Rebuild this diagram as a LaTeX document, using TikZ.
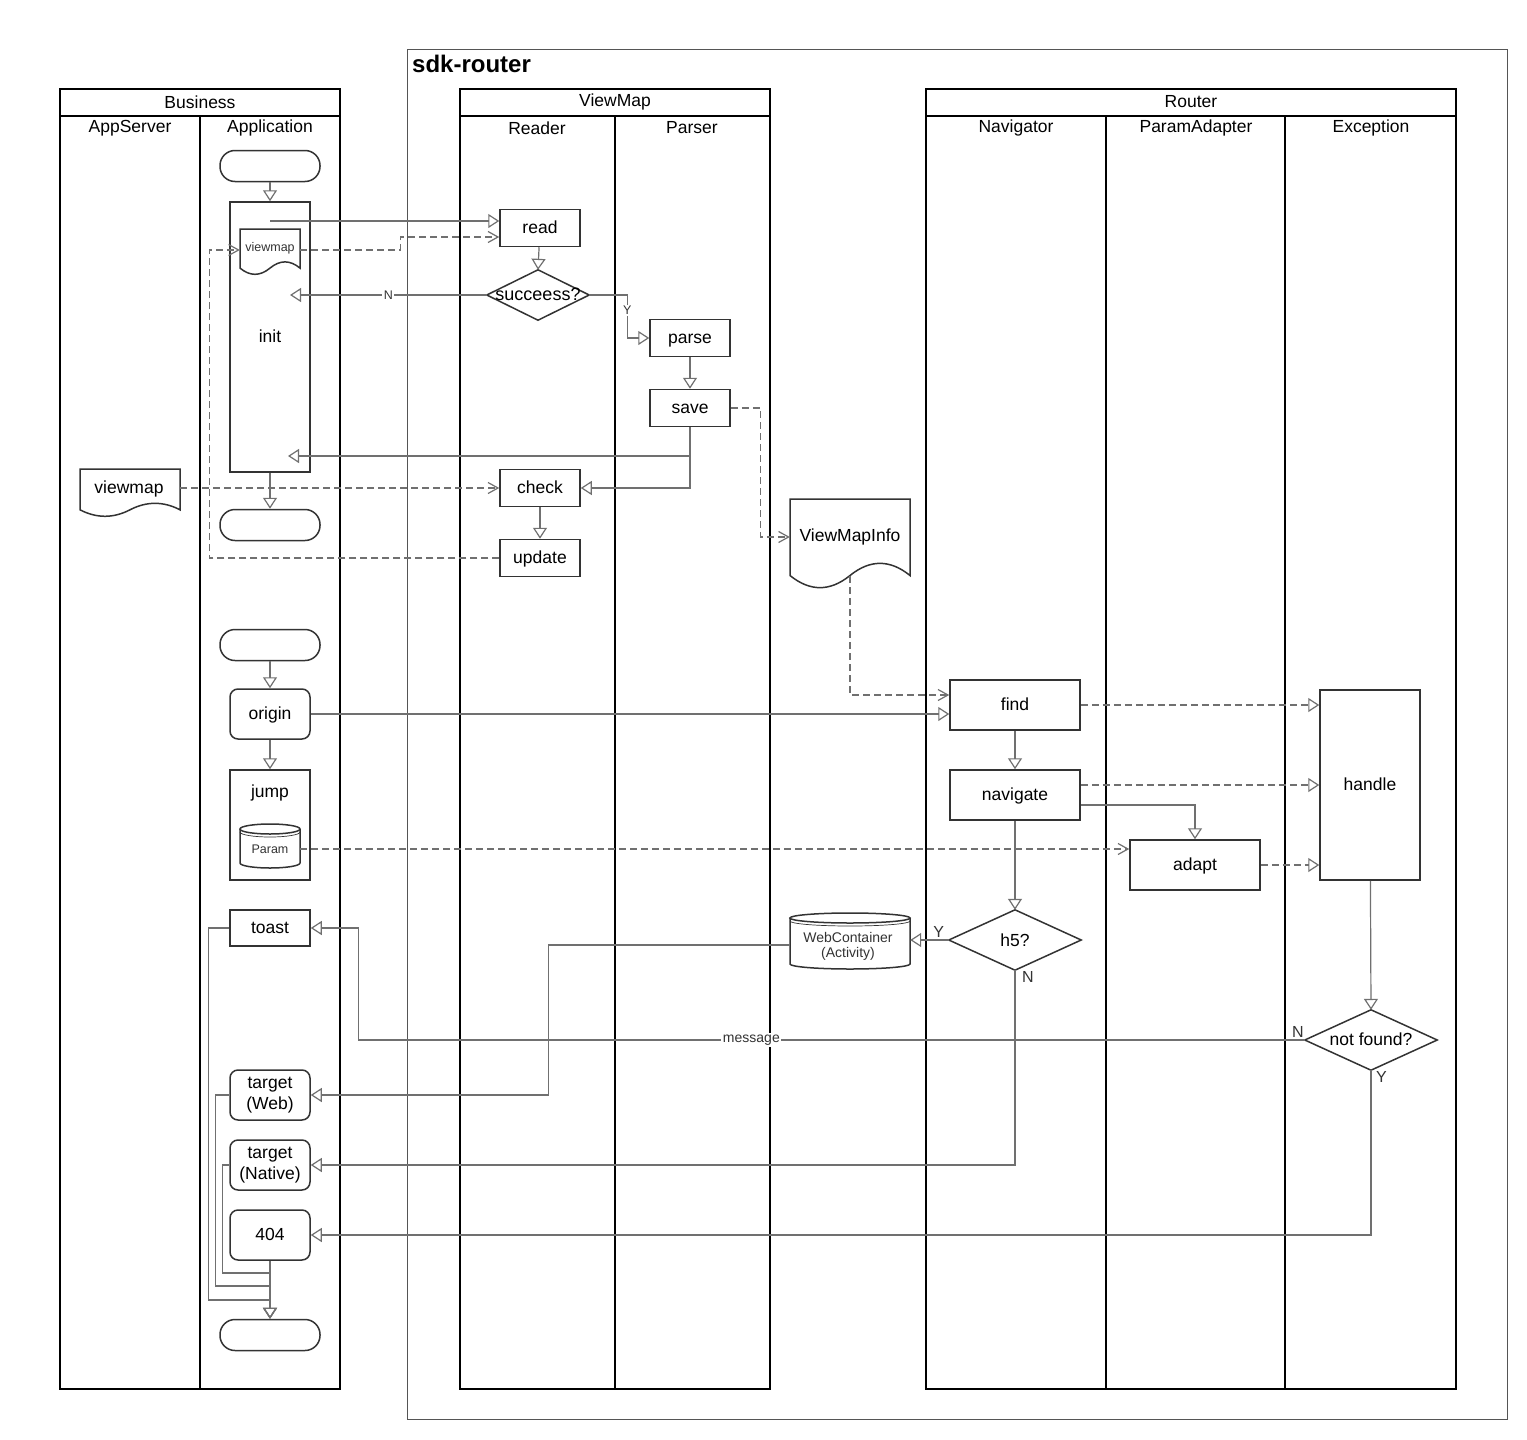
\documentclass[tikz,border=0pt]{standalone}
\usepackage{fontspec}
\setmainfont{Liberation Sans}
\usetikzlibrary{arrows.meta}
\definecolor{nodec}{HTML}{333333}
\definecolor{edgec}{HTML}{707070}
\definecolor{outerc}{HTML}{555555}
\newcommand\mydoc[4]{%
  \draw[nodeline] (#1,#2) -- (#1+#3,#2) -- (#1+#3,#2+0.85*#4)
    .. controls (#1+0.8333*#3,#2+0.67*#4) and (#1+0.6667*#3,#2+0.67*#4) .. (#1+0.5*#3,#2+0.85*#4)
    .. controls (#1+0.3333*#3,#2+1.03*#4) and (#1+0.1667*#3,#2+1.03*#4) .. (#1,#2+0.85*#4) -- cycle;}
\newcommand\mycyl[5]{%
  \draw[nodeline] (#1,#2+#5) -- (#1,#2+#4-#5) arc[start angle=180,end angle=0,x radius=#3/2,y radius=#5] -- (#1+#3,#2+#5);
  \draw[nodeline] (#1+#3/2,#2+#5) ellipse[x radius=#3/2,y radius=#5];
  \draw[draw=nodec,line width=0.7pt] (#1,#2+#5+3) arc[start angle=180,end angle=0,x radius=#3/2,y radius=#5];}
\tikzset{
  lane/.style={draw=black,line width=1.5pt},
  nodeline/.style={draw=nodec,line width=1.5pt,fill=white},
  rectml/.style={draw=nodec,line width=1.5pt,fill=white,inner sep=1pt,font=\fontsize{17.5}{21}\selectfont,align=center},
  rect/.style={rectml,text height=12.5pt,text depth=2pt},
  rrect/.style={rect,rounded corners=8pt},
  rrectml/.style={rectml,rounded corners=8pt},
  term/.style={rect,rounded corners=15pt,minimum width=100pt,minimum height=31pt},
  ghost/.style={inner sep=0pt},
  txt/.style={inner sep=1pt,font=\fontsize{17.5}{20}\selectfont,align=center},
  smalltxt/.style={inner sep=1pt,font=\fontsize{12.5}{14}\selectfont,text=nodec,align=center},
  midtxt/.style={inner sep=1pt,font=\fontsize{14}{16}\selectfont,text=nodec,align=center},
  diam/.style={draw=nodec,line width=1.5pt,fill=white,font=\fontsize{17.5}{20}\selectfont},
  flow/.style={draw=edgec,line width=1.2pt,-{Triangle[open,length=11pt,width=14pt,line width=1.2pt]}},
  dflow/.style={flow,dash pattern=on 7pt off 4pt},
  dopen/.style={draw=edgec,line width=1.2pt,dash pattern=on 7pt off 4pt,-{Straight Barb[length=10pt,width=11pt,line width=1.2pt]}},
  elbl/.style={fill=white,inner sep=1.5pt,font=\fontsize{12.5}{14}\selectfont,text=nodec},
  elbig/.style={inner sep=1pt,font=\fontsize{16}{18}\selectfont,text=nodec},
}
\begin{document}
\begin{tikzpicture}[x=1pt,y=-1pt]
\useasboundingbox (0,0) rectangle (1527,1440);
\fill[white] (0,0) rectangle (1527,1440);
% outer sdk-router
\draw[draw=outerc,line width=0.8pt] (407,49) rectangle (1507,1419);
\node[txt,anchor=west,font=\fontsize{24}{27}\selectfont\bfseries] (sdk) at (411,64) {sdk-router};
% Business pool
\draw[lane] (60,89) rectangle (340,1389);
\draw[lane] (60,116) -- (340,116);
\draw[lane] (200,116) -- (200,1389);
\node[txt] (hBus) at (200,102) {Business};
\node[txt] (hApps) at (130,128) {AppServer};
\node[txt] (hAppl) at (270,128) {Application};
% ViewMap pool
\draw[lane] (460,89) rectangle (770,1389);
\draw[lane] (460,116) -- (770,116);
\draw[lane] (615,116) -- (615,1389);
\node[txt] (hVM) at (615,102) {ViewMap};
\node[txt] (hRd) at (537,128) {Reader};
\node[txt] (hPs) at (692,128) {Parser};
% Router pool
\draw[lane] (926,89) rectangle (1456,1389);
\draw[lane] (926,116) -- (1456,116);
\draw[lane] (1106,116) -- (1106,1389);
\draw[lane] (1285,116) -- (1285,1389);
\node[txt] (hRt) at (1191,102) {Router};
\node[txt] (hNav) at (1016,128) {Navigator};
\node[txt] (hPA) at (1196,128) {ParamAdapter};
\node[txt] (hEx) at (1371,128) {Exception};

% ---- nodes: Application lane
\node[term] (st1) at (270,166) {};
\node[rect,minimum width=80pt,minimum height=270pt] (init) at (270,337) {init};
\node[ghost,minimum width=60pt,minimum height=46pt] (vmS) at (270,252) {};
\mydoc{240}{229}{60}{46}
\node[smalltxt] (vmSt) at (270,248) {viewmap};
\node[term] (end1) at (270,525) {};
\node[term] (st2) at (270,645) {};
\node[rrect,minimum width=80pt,minimum height=50pt] (origin) at (270,714) {origin};
\node[rect,minimum width=80pt,minimum height=110pt] (jump) at (270,825) {};
\node[txt] (jumpt) at (270,793) {jump};
\node[ghost,minimum width=60pt,minimum height=44pt] (param) at (270,846) {};
\mycyl{240}{824}{60}{44}{5}
\node[smalltxt] (paramt) at (270,849) {Param};
\node[rect,minimum width=80pt,minimum height=36pt] (toast) at (270,928) {toast};
\node[rrectml,minimum width=80pt,minimum height=50pt] (tweb) at (270,1095) {target\\(Web)};
\node[rrectml,minimum width=80pt,minimum height=50pt] (tnat) at (270,1165) {target\\(Native)};
\node[rrect,minimum width=80pt,minimum height=50pt] (n404) at (270,1235) {404};
\node[term] (end2) at (270,1335) {};
% AppServer lane
\node[ghost,minimum width=100pt,minimum height=48pt] (vmA) at (130,493) {};
\mydoc{80}{469}{100}{48}
\node[txt] (vmAt) at (129,489) {viewmap};
% Reader / Parser
\node[rect,minimum width=80pt,minimum height=37pt] (read) at (540,228) {read};
\node[ghost,minimum width=102pt,minimum height=50pt] (succ) at (538,295) {};
\draw[nodeline] (succ.west) -- (succ.north) -- (succ.east) -- (succ.south) -- cycle;
\node[txt,font=\fontsize{18}{20}\selectfont] (succt) at (538,294) {succeess?};
\node[rect,minimum width=80pt,minimum height=37pt] (parse) at (690,338) {parse};
\node[rect,minimum width=80pt,minimum height=37pt] (save) at (690,408) {save};
\node[rect,minimum width=80pt,minimum height=37pt] (check) at (540,488) {check};
\node[rect,minimum width=80pt,minimum height=37pt] (update) at (540,558) {update};
% ViewMapInfo
\node[ghost,minimum width=120pt,minimum height=90pt] (vmi) at (850,544) {};
\mydoc{790}{499}{120}{90}
\node[txt] (vmit) at (850,537) {ViewMapInfo};
% WebContainer
\node[ghost,minimum width=120pt,minimum height=56pt] (wc) at (850,941) {};
\mycyl{790}{913}{120}{56}{5}
\node[midtxt] (wct) at (848,946) {WebContainer\\[-1pt](Activity)};
% Router
\node[rect,minimum width=130pt,minimum height=50pt] (find) at (1015,705) {find};
\node[rect,minimum width=130pt,minimum height=50pt] (nav) at (1015,795) {navigate};
\node[rect,minimum width=130pt,minimum height=50pt] (adapt) at (1195,865) {adapt};
\node[rect,minimum width=100pt,minimum height=190pt] (handle) at (1370,785) {handle};
\node[ghost,minimum width=132pt,minimum height=60pt] (h5) at (1015,940) {};
\draw[nodeline] (h5.west) -- (h5.north) -- (h5.east) -- (h5.south) -- cycle;
\node[txt] (h5t) at (1015,940) {h5?};
\node[ghost,minimum width=132pt,minimum height=60pt] (nf) at (1371,1040) {};
\draw[nodeline] (nf.west) -- (nf.north) -- (nf.east) -- (nf.south) -- cycle;
\node[txt] (nft) at (1371,1039) {not found?};

% ---- connectors
\draw[flow] (st1) -- (init);
\coordinate (rIn1) at ([yshift=7pt]read.west);
\draw[flow] (init.north |- rIn1) -- (rIn1);
\coordinate (rIn2) at ([yshift=-9pt]read.west);
\draw[dopen] ([yshift=2pt]vmS.east) -- ++(100,0) |- (rIn2);
\draw[flow] (read) -- (succ.north);
\coordinate (nEnd) at (290,295);
\draw[flow] (succ.west) -- node[elbl]{N} (nEnd);
\draw[flow] (succ.east) -- ++(38,0) |- node[pos=0.18,elbl]{Y} (parse.west);
\draw[flow] (parse) -- (save);
\coordinate (svInit) at (288,456);
\draw[flow] (save.south) |- (svInit);
\draw[flow] (save.south) |- (check.east);
\draw[dopen] (save.east) -- ++(30,0) |- ([yshift=7pt]vmi.west);
\draw[dopen] (vmA.east |- check.west) -- (check.west);
\draw[flow] (check) -- (update);
\draw[dopen] (update.west) -- ++(-290,0) |- ([yshift=2pt]vmS.west);
\draw[flow] (init) -- (end1);
\draw[dopen] ([yshift=13pt]vmi.south) |- ([yshift=10pt]find.west);
\draw[flow] (st2) -- (origin);
\draw[flow] (origin.east) -- (origin.east -| find.west);
\draw[flow] (origin) -- (jump);
\draw[dopen] ([yshift=-3pt]param.east) -- ([yshift=-3pt]param.east -| adapt.west);
\draw[flow] (find) -- (nav);
\draw[dflow] (find.east) -- (find.east -| handle.west);
\draw[dflow] ([yshift=10pt]nav.east) -- ([yshift=10pt]nav.east -| handle.west);
\draw[flow] ([yshift=-10pt]nav.east) -| (adapt.north);
\draw[dflow] (adapt.east) -- (adapt.east -| handle.west);
\draw[flow] (nav) -- (h5.north);
\draw[flow] (h5.west) -- (h5.west -| wc.east);
\node[elbig,anchor=south] (yh5) at ([xshift=-10pt,yshift=1pt]h5.west) {Y};
\draw[flow] ([yshift=-4pt]wc.west) -- ++(-241,0) |- (tweb.east);
\draw[flow] (h5.south) |- (tnat.east);
\node[elbig,anchor=north west] (nh5) at ([xshift=6pt,yshift=0pt]h5.south) {N};
\draw[flow] (handle) -- (nf.north);
\draw[flow] (nf.west) -- node[pos=0.585,elbl,font=\fontsize{14}{16}\selectfont]{message} ++(-946,0) |- (toast.east);
\node[elbig,anchor=south east] (nnf) at ([xshift=0pt,yshift=1pt]nf.west) {N};
\draw[flow] (nf.south) |- (n404.east);
\node[elbig,anchor=north west] (ynf) at ([xshift=4pt,yshift=0pt]nf.south) {Y};
\draw[flow] (toast.west) -- ++(-21,0) -- ++(0,372) -| (end2.north);
\draw[flow] (tweb.west) -- ++(-14,0) -- ++(0,191) -| (end2.north);
\draw[flow] (tnat.west) -- ++(-7,0) -- ++(0,108) -| (end2.north);
\draw[flow] (n404) -- (end2);
\end{tikzpicture}
\end{document}
